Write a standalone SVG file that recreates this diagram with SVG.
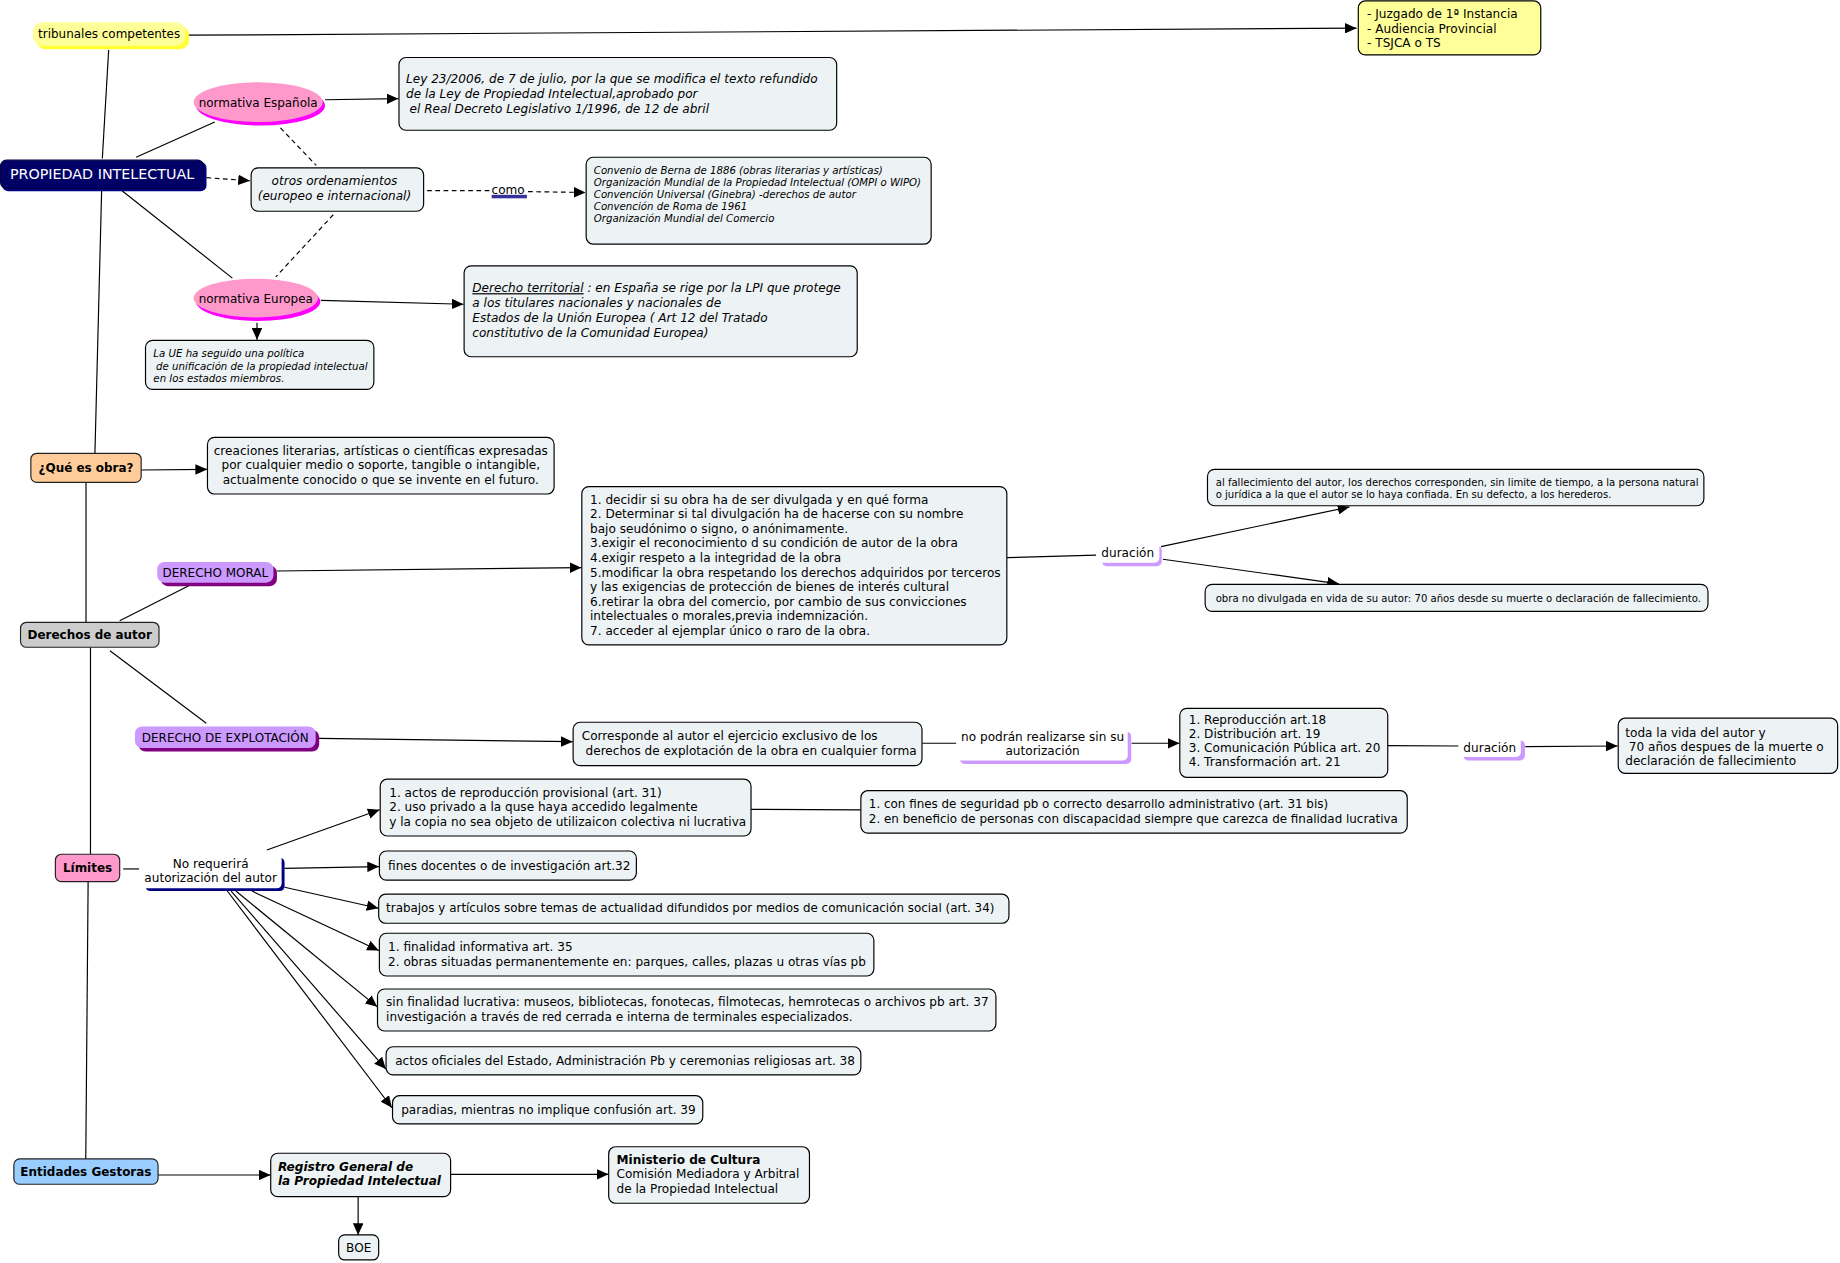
<svg xmlns="http://www.w3.org/2000/svg" width="1840" height="1263" viewBox="0 0 1840 1263">
<defs>
<marker id="ah" markerUnits="userSpaceOnUse" markerWidth="10" markerHeight="9" refX="10" refY="4.5" orient="auto" viewBox="0 0 10 9"><path d="M0,0 L10,4.5 L0,9 z" fill="#000"/></marker>
<style>
text{font-family:'DejaVu Sans','Liberation Sans',sans-serif;font-size:10.3px;fill:#000}
.b{fill:#edf3f5;stroke:#000;stroke-width:1}
.s{font-size:8.7px}
.xs{font-size:8.6px}
.i{font-style:italic}
.c{text-anchor:middle}
.bd{font-weight:bold}
.ln{stroke:#000;stroke-width:1;fill:none}
.ar{marker-end:url(#ah)}
.d{stroke-dasharray:4 3}
.lb{font-size:10.2px}
.n{font-size:10.15px}
</style>
</defs>
<rect width="1840" height="1263" fill="#fff"/>
<g transform="scale(1.17347)">
<g id="connectors">
<path class="ln ar" stroke="#333" d="M160,30 L1156,24"/>
<path class="ln" d="M92.6,42.6 L87.2,135"/>
<path class="ln" d="M86.6,162.5 L80.9,386"/>
<path class="ln" d="M116,134 L183,104"/>
<path class="ln" d="M104,162.5 L198,237"/>
<path class="ln ar" d="M277,85 L339.5,84"/>
<path class="ln ar d" d="M176,151.4 L213,154"/>
<path class="ln d" d="M239,109 L269.5,141"/>
<path class="ln d" d="M284,183 L235,236"/>
<path class="ln d" d="M364,162.5 L417,162.5"/>
<path class="ln ar d" d="M450,163.3 L499,164"/>
<path class="ln ar" d="M273.5,256 L395,259.3"/>
<path class="ln ar" d="M219,275 L219,289.5"/>
<path class="ln ar" d="M120.3,400.5 L176.5,400"/>
<path class="ln" d="M73.3,411 L73.3,530"/>
<path class="ln" d="M102,529 L161.7,498.8"/>
<path class="ln ar" d="M235.8,486.6 L495.5,483.7"/>
<path class="ln" d="M858,475.2 L934,473"/>
<path class="ln ar" d="M989.4,465.8 L1150,432"/>
<path class="ln ar" d="M991,476.6 L1141,497.5"/>
<path class="ln" d="M93.7,554.5 L175.8,616.4"/>
<path class="ln ar" d="M271.8,629.2 L488,632"/>
<path class="ln" d="M786,633.4 L815,633.4"/>
<path class="ln ar" d="M964.3,633.4 L1005,633.4"/>
<path class="ln" d="M1182.6,635.4 L1243,635.7"/>
<path class="ln ar" d="M1299.8,636.3 L1378.5,635.7"/>
<path class="ln" d="M77.1,551.6 L77.1,728"/>
<path class="ln" d="M105,740.5 L118.5,740.5"/>
<path class="ln ar" d="M227.4,724.3 L323.5,690"/>
<path class="ln ar" d="M242.5,740 L323,738.5"/>
<path class="ln ar" d="M242.5,756.1 L322.5,774"/>
<path class="ln ar" d="M214.6,759.3 L322.8,810"/>
<path class="ln ar" d="M201,759.3 L321.5,858"/>
<path class="ln ar" d="M197,759.3 L328.8,911"/>
<path class="ln ar" d="M193.7,759.3 L334,944"/>
<path class="ln" d="M640,689.7 L733.6,690.2"/>
<path class="ln" d="M75.1,751.3 L73.1,987.6"/>
<path class="ln ar" d="M134.7,1001.3 L230.5,1001.3"/>
<path class="ln ar" d="M384,1000.7 L518.5,1000.7"/>
<path class="ln ar" d="M305.2,1019.8 L305.2,1052.4"/>
</g>

<g id="tribunales">
<rect x="31" y="22" width="130" height="20" rx="8" fill="#ffff33"/>
<rect x="28" y="19" width="130" height="20" rx="8" fill="#ffff99"/>
<text class="c lb" x="93" y="32.5">tribunales competentes</text>
</g>

<g id="juzgados">
<rect class="b" x="1157.5" y="0.8" width="155.5" height="46" rx="6" style="fill:#ffff99"/>
<text x="1165" y="15.5">- Juzgado de 1ª Instancia</text>
<text x="1165" y="27.8">- Audiencia Provincial</text>
<text x="1165" y="40.1">- TSJCA o TS</text>
</g>

<g id="propiedad">
<rect x="2" y="138" width="174" height="25" rx="5" fill="#000080"/>
<rect x="0.5" y="136.5" width="173" height="24" rx="5" fill="#000066" stroke="#000044"/>
<text class="c" x="87" y="152.5" style="fill:#fff;font-size:12.2px">PROPIEDAD INTELECTUAL</text>
</g>

<g id="normativa-espanola">
<ellipse cx="222" cy="90" rx="55" ry="17" fill="#ff00ff"/>
<ellipse cx="220" cy="87" rx="55" ry="17" fill="#ff99cc"/>
<text class="c lb" x="220" y="91">normativa Española</text>
</g>

<g id="ley">
<rect class="b" x="340" y="49" width="373" height="62" rx="6"/>
<text class="i" x="346" y="71">Ley 23/2006, de 7 de julio, por la que se modifica el texto refundido</text>
<text class="i" x="346" y="83.5">de la Ley de Propiedad Intelectual,aprobado por</text>
<text class="i" x="349" y="96">el Real Decreto Legislativo 1/1996, de 12 de abril</text>
</g>

<g id="otros">
<rect class="b" x="214" y="143" width="147" height="37" rx="6"/>
<text class="i c" x="285" y="158">otros ordenamientos</text>
<text class="i c" x="285" y="170.3">(europeo e internacional)</text>
</g>

<g id="como">
<rect x="419" y="166" width="30" height="3" fill="#333399"/>
<text class="c" x="433" y="165.3">como</text>
</g>

<g id="convenios">
<rect class="b" x="499.5" y="134" width="294" height="74" rx="6"/>
<text class="i s" x="506" y="148">Convenio de Berna de 1886 (obras literarias y artísticas)</text>
<text class="i s" x="506" y="158.5">Organización Mundial de la Propiedad Intelectual (OMPI o WIPO)</text>
<text class="i s" x="506" y="168.6">Convención Universal (Ginebra) -derechos de autor</text>
<text class="i s" x="506" y="179">Convención de Roma de 1961</text>
<text class="i s" x="506" y="189.2">Organización Mundial del Comercio</text>
</g>

<g id="normativa-europea">
<ellipse cx="220" cy="257" rx="53" ry="16.5" fill="#ff00ff"/>
<ellipse cx="218" cy="254" rx="53" ry="16.5" fill="#ff99cc"/>
<text class="c lb" x="218" y="258.3">normativa Europea</text>
</g>

<g id="territorial">
<rect class="b" x="395.5" y="226.5" width="335" height="77.5" rx="6"/>
<text class="i" x="402.5" y="249"><tspan text-decoration="underline">Derecho territorial</tspan> : en España se rige por la LPI que protege</text>
<text class="i" x="402.5" y="261.8">a los titulares nacionales y nacionales de</text>
<text class="i" x="402.5" y="274.2">Estados de la Unión Europea ( Art 12 del Tratado</text>
<text class="i" x="402.5" y="286.8">constitutivo de la  Comunidad Europea)</text>
</g>

<g id="ue">
<rect class="b" x="124" y="290" width="194.6" height="41.8" rx="6"/>
<text class="i s" x="130.7" y="304.5">La UE ha seguido una política</text>
<text class="i s" x="133" y="315">de unificación de la propiedad intelectual</text>
<text class="i s" x="130.7" y="325.3">en los estados miembros.</text>
</g>

<g id="que-es-obra">
<rect x="26.3" y="386.3" width="94" height="24.7" rx="5" fill="#ffcc99" stroke="#222"/>
<text class="c bd lb" x="73.3" y="402.2">¿Qué es obra?</text>
</g>

<g id="creaciones">
<rect class="b" x="176.8" y="372.7" width="295.4" height="48.3" rx="6"/>
<text class="c" x="324.5" y="387.5">creaciones literarias, artísticas o científicas expresadas</text>
<text class="c" x="324.5" y="400">por cualquier medio o soporte, tangible o intangible,</text>
<text class="c" x="324.5" y="412.5">actualmente conocido o que se invente en el futuro.</text>
</g>

<g id="derechos-autor">
<rect x="17.5" y="530.3" width="118" height="21.3" rx="5" fill="#cccccc" stroke="#222"/>
<text class="c bd lb" x="76.5" y="544.8">Derechos de autor</text>
</g>

<g id="derecho-moral">
<rect x="137" y="482" width="99" height="17.5" rx="6" fill="#800080"/>
<rect x="134" y="479" width="99" height="17.5" rx="6" fill="#cc99ff"/>
<text class="c lb" x="183.5" y="491.5">DERECHO MORAL</text>
</g>

<g id="moral-lista">
<rect class="b" x="495.8" y="414.7" width="362.2" height="134.9" rx="6"/>
<text x="502.8" y="429.6">1. decidir si su obra ha de ser divulgada y en qué forma</text>
<text x="502.8" y="441.8">2. Determinar si tal divulgación ha de hacerse con su nombre</text>
<text x="502.8" y="454.3">bajo seudónimo o signo, o anónimamente.</text>
<text x="502.8" y="466.5">3.exigir el reconocimiento d su condición de autor de la obra</text>
<text x="502.8" y="479">4.exigir respeto a la integridad de la obra</text>
<text x="502.8" y="491.5">5.modificar la obra respetando los derechos adquiridos por terceros</text>
<text x="502.8" y="503.7">y las exigencias de protección de bienes de interés cultural</text>
<text x="502.8" y="516.2">6.retirar la obra del comercio, por cambio de sus convicciones</text>
<text x="502.8" y="528.4">intelectuales o morales,previa indemnización.</text>
<text x="502.8" y="540.9">7. acceder al ejemplar único o raro de la obra.</text>
</g>

<g id="duracion-1">
<rect x="939" y="465" width="51" height="17.5" rx="4" fill="#cc99ff"/>
<rect x="935" y="462" width="53" height="17.5" rx="4" fill="#fff"/>
<text class="c" x="961" y="475">duración</text>
</g>

<g id="fallecimiento">
<rect class="b" x="1029" y="400" width="423" height="31" rx="6"/>
<text class="xs" x="1036" y="414.3">al fallecimiento del autor, los derechos corresponden, sin limite de tiempo, a la persona natural</text>
<text class="xs" x="1036" y="424">o jurídica a la que el autor se lo haya confiada. En su defecto, a los herederos.</text>
</g>

<g id="no-divulgada">
<rect class="b" x="1027" y="498" width="428.5" height="23" rx="6"/>
<text class="xs" x="1036" y="512.6">obra no divulgada en vida de su autor: 70 años desde su muerte o declaración de fallecimiento.</text>
</g>

<g id="derecho-explotacion">
<rect x="118" y="622" width="154" height="18.5" rx="6" fill="#800080"/>
<rect x="115" y="619" width="154" height="18.5" rx="6" fill="#cc99ff"/>
<text class="c lb" x="192" y="632">DERECHO DE EXPLOTACIÓN</text>
</g>

<g id="corresponde">
<rect class="b" x="488.4" y="615.5" width="297.3" height="37" rx="6"/>
<text x="495.8" y="631">Corresponde al autor el ejercicio exclusivo de los</text>
<text x="499" y="643.2">derechos de explotación de la obra en cualquier forma</text>
</g>

<g id="no-podran">
<rect x="818" y="623.5" width="146" height="27.5" rx="4" fill="#cc99ff"/>
<rect x="815" y="620" width="146" height="28" rx="4" fill="#fff"/>
<text class="c" x="888.5" y="631.3">no podrán realizarse sin su</text>
<text class="c" x="888.5" y="643.5">autorización</text>
</g>

<g id="reproduccion">
<rect class="b" x="1005.4" y="603.6" width="177.2" height="58.8" rx="6"/>
<text x="1013" y="617.1">1. Reproducción art.18</text>
<text x="1013" y="629">2. Distribución art. 19</text>
<text x="1013" y="641.2">3. Comunicación Pública art. 20</text>
<text x="1013" y="653.1">4. Transformación art. 21</text>
</g>

<g id="duracion-2">
<rect x="1247" y="631" width="52.5" height="17" rx="4" fill="#cc99ff"/>
<rect x="1243" y="628" width="53" height="17" rx="4" fill="#fff"/>
<text class="c" x="1269.5" y="641">duración</text>
</g>

<g id="toda-la-vida">
<rect class="b" x="1379" y="612" width="187" height="47" rx="6"/>
<text x="1385" y="627.8">toda la vida del autor y</text>
<text x="1388" y="639.8">70 años despues de la muerte o</text>
<text x="1385" y="651.7">declaración de fallecimiento</text>
</g>

<g id="limites">
<rect x="47.2" y="728" width="54.8" height="23.3" rx="5" fill="#ff99cc" stroke="#222"/>
<text class="c bd lb" x="74.6" y="743.4">Límites</text>
</g>

<g id="no-requerira">
<rect x="124" y="731" width="118.5" height="28.3" rx="4" fill="#000080"/>
<rect x="121" y="728" width="119" height="29" rx="4" fill="#fff"/>
<text class="c" x="179.5" y="739.3">No requerirá</text>
<text class="c" x="179.5" y="751.7">autorización del autor</text>
</g>

<g id="actos-reproduccion">
<rect class="b" x="324" y="664" width="316" height="48.4" rx="6"/>
<text x="331.7" y="679">1. actos de reproducción provisional (art. 31)</text>
<text x="331.7" y="691.5">2. uso privado a la quse haya accedido legalmente</text>
<text x="331.7" y="703.7">y la copia no sea objeto de utilizaicon colectiva ni lucrativa</text>
</g>

<g id="con-fines">
<rect class="b" x="733.6" y="673.8" width="465.6" height="36.2" rx="6"/>
<text class="n" x="740.4" y="688.6">1. con fines de seguridad pb o correcto desarrollo administrativo (art. 31 bis)</text>
<text class="n" x="740.4" y="701">2. en beneficio de personas con discapacidad siempre que carezca de finalidad lucrativa</text>
</g>

<g id="fines-docentes">
<rect class="b" x="323.3" y="725.2" width="219" height="24.8" rx="6"/>
<text x="330.7" y="741.2">fines docentes o de investigación art.32</text>
</g>

<g id="trabajos">
<rect class="b" x="322.7" y="762" width="537.1" height="24.8" rx="6"/>
<text class="n" x="329" y="777.5">trabajos y artículos sobre temas de actualidad difundidos por medios de comunicación social (art. 34)</text>
</g>

<g id="finalidad-informativa">
<rect class="b" x="323.3" y="795.3" width="421.4" height="36.4" rx="6"/>
<text x="330.7" y="810.2">1. finalidad informativa art. 35</text>
<text x="330.7" y="823">2. obras situadas permanentemente en: parques, calles, plazas u otras vías pb</text>
</g>

<g id="sin-finalidad">
<rect class="b" x="321.7" y="842.8" width="527" height="35.8" rx="6"/>
<text x="329" y="857.6">sin finalidad lucrativa: museos, bibliotecas, fonotecas, filmotecas, hemrotecas o archivos pb art. 37</text>
<text x="329" y="870">investigación a través de red cerrada e interna de terminales especializados.</text>
</g>

<g id="actos-oficiales">
<rect class="b" x="329" y="892" width="404.6" height="24" rx="6"/>
<text x="336.8" y="907.4">actos oficiales del Estado, Administración Pb y ceremonias religiosas art. 38</text>
</g>

<g id="paradias">
<rect class="b" x="334.5" y="933.7" width="264.4" height="24.1" rx="6"/>
<text x="341.9" y="949.4">paradias, mientras no implique confusión art. 39</text>
</g>

<g id="entidades">
<rect x="11.8" y="987.6" width="122.9" height="21.6" rx="5" fill="#99ccff" stroke="#222"/>
<text class="c bd lb" x="73.2" y="1002">Entidades Gestoras</text>
</g>

<g id="registro">
<rect class="b" x="230.7" y="982.8" width="153.3" height="37" rx="6"/>
<text class="i bd" x="236.8" y="997.8">Registro General de</text>
<text class="i bd" x="236.8" y="1010">la Propiedad Intelectual</text>
</g>

<g id="ministerio">
<rect class="b" x="518.7" y="977.2" width="171.1" height="48.2" rx="6"/>
<text class="bd" x="525.4" y="992">Ministerio de Cultura</text>
<text x="525.4" y="1004.2">Comisión Mediadora y Arbitral</text>
<text x="525.4" y="1016.7">de la Propiedad Intelectual</text>
</g>

<g id="boe">
<rect class="b" x="288.6" y="1052.4" width="34.1" height="21.3" rx="5"/>
<text class="c" x="305.7" y="1066.8">BOE</text>
</g>
</g>
</svg>
